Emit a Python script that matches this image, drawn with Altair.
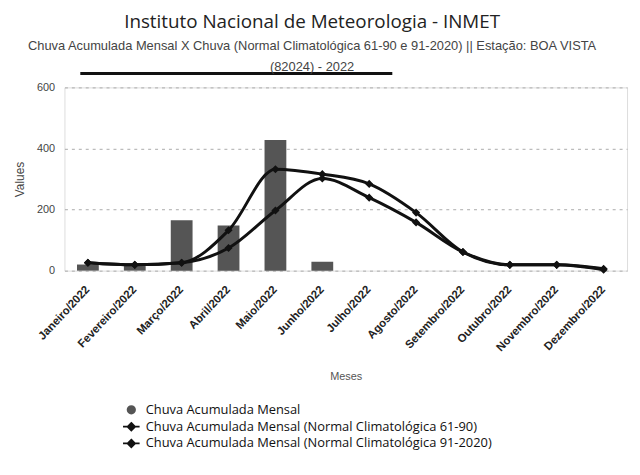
import altair as alt
import pandas as pd

meses = ["Janeiro/2022", "Fevereiro/2022", "Março/2022", "Abril/2022", "Maio/2022",
         "Junho/2022", "Julho/2022", "Agosto/2022", "Setembro/2022", "Outubro/2022",
         "Novembro/2022", "Dezembro/2022"]
chuva_mensal = [20, 15, 165, 148, 428, 29, None, None, None, None, None, None]
normal_61_90 = [26, 19, 26, 132, 332, 316, 284, 190, 61, 19, 19, 6]
normal_91_20 = [26, 19, 26, 74, 197, 302, 239, 158, 61, 19, 19, 3]
series = ["Chuva Acumulada Mensal",
          "Chuva Acumulada Mensal (Normal Climatológica 61-90)",
          "Chuva Acumulada Mensal (Normal Climatológica 91-2020)"]

rows = []
for vals, s in zip([chuva_mensal, normal_61_90, normal_91_20], series):
    for m, v in zip(meses, vals):
        if v is not None:
            rows.append({"mes": m, "serie": s, "valor": v})
df = pd.DataFrame(rows)

line_sym = "M-1,0L1,0M0,-0.45L0.45,0L0,0.45L-0.45,0Z"
dot_sym = "M-0.45,0A0.45,0.45,0,1,1,0.45,0A0.45,0.45,0,1,1,-0.45,0Z"
color_scale = alt.Scale(domain=series, range=["#555555", "#111111", "#111111"])
shape_scale = alt.Scale(domain=series, range=[dot_sym, line_sym, line_sym])
legend = alt.Legend(title=None, orient="none", legendX=58, legendY=316,
                    direction="vertical", labelFont="Open Sans", labelFontSize=13,
                    labelColor="#111", symbolSize=280, rowPadding=0, labelOffset=5,
                    symbolStrokeColor="#111", symbolStrokeWidth=1.8, labelLimit=600)

x = alt.X("mes:N", sort=meses, title="Meses",
          scale=alt.Scale(paddingInner=0, paddingOuter=0),
          axis=alt.Axis(labelAngle=-47, labelAlign="right", labelBaseline="middle",
                        labelFontSize=11.5, labelFont="Liberation Sans", labelFontWeight="bold",
                        labelColor="#222", labelPadding=17, ticks=False, domain=False,
                        titleFont="Liberation Sans", titleFontSize=11, titleFontWeight="normal",
                        titleColor="#555", titlePadding=18))
y = alt.Y("valor:Q", title="Values", scale=alt.Scale(domain=[0, 600]),
          axis=alt.Axis(values=[0, 200, 400, 600], ticks=False, domain=False,
                        labelFont="Liberation Sans", labelFontSize=11, labelColor="#444",
                        labelPadding=10, titleFont="Liberation Sans", titleFontSize=12,
                        titleFontWeight="normal", titleColor="#444", titlePadding=10,
                        gridDash=[3, 4], gridColor="#aaaaaa"))

base = alt.Chart(df)
bars = base.transform_filter(alt.datum.serie == series[0]).mark_bar(size=22).encode(
    x=x, y=y,
    color=alt.Color("serie:N", scale=color_scale, legend=legend),
)
lines = base.transform_filter(alt.datum.serie != series[0]).mark_line(
    interpolate="monotone", strokeWidth=3).encode(
    x=x, y=y, color=alt.Color("serie:N", scale=color_scale, legend=legend), detail="serie:N")
points = base.transform_filter(alt.datum.serie != series[0]).mark_point(
    filled=True, size=330, opacity=1).encode(
    x=x, y=y,
    color=alt.Color("serie:N", scale=color_scale, legend=legend),
    shape=alt.Shape("serie:N", scale=shape_scale, legend=legend))

rule = alt.Chart(pd.DataFrame({"k": [0]})).mark_rule(color="#111", strokeWidth=3).encode(
    x=alt.value(16), x2=alt.value(331), y=alt.value(-14))

chart = alt.layer(bars, lines, points, rule).properties(
    width=568, height=185,
    padding={"left": 5, "right": 5, "top": 3, "bottom": 5},
    title=alt.TitleParams(
        "Instituto Nacional de Meteorologia - INMET",
        subtitle=["Chuva Acumulada Mensal X Chuva (Normal Climatológica 61-90 e 91-2020) || Estação: BOA VISTA",
                  "(82024) - 2022"],
        font="Open Sans", fontSize=19, fontWeight="normal", color="#222",
        subtitleFont="Liberation Sans", subtitleFontSize=13, subtitleColor="#444",
        subtitlePadding=8, subtitleLineHeight=21, anchor="middle", dx=-34, offset=-2),
).configure_view(stroke=None).configure(background="white")

chart.save("out.html", embed_options={"renderer": "svg", "actions": False})
